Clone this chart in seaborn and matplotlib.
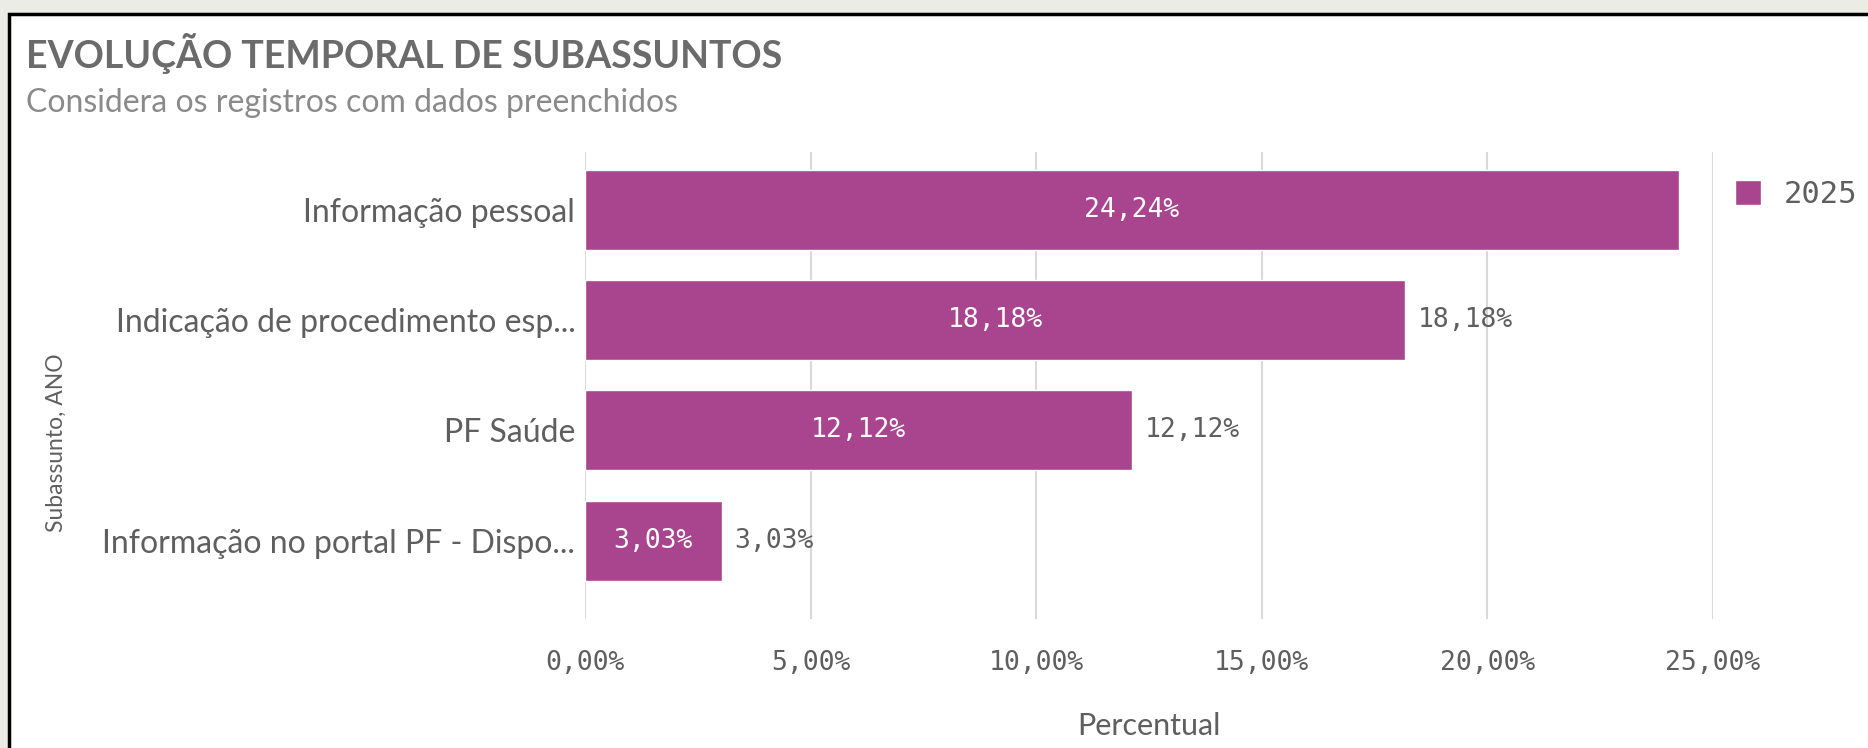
import pandas as pd
import seaborn as sns
import matplotlib.pyplot as plt
from matplotlib.patches import Rectangle
from matplotlib.ticker import FuncFormatter

categorias = ['Informação pessoal', 'Indicação de procedimento esp...',
              'PF Saúde', 'Informação no portal PF - Dispo...']
percentuais = [24.24, 18.18, 12.12, 3.03]
ano = ['2025', '2025', '2025', '2025']
xticks = [0, 5, 10, 15, 20, 25]

cor_barra = '#a9448f'
cor_texto = '#5f5f5f'

df = pd.DataFrame({'Subassunto': categorias, 'Percentual': percentuais, 'ANO': ano})


def fmt(v):
    return f'{v:.2f}%'.replace('.', ',')


sns.set_style('white')
plt.rcParams['font.family'] = ['Lato', 'DejaVu Sans']

W, H = 1868, 748
fig = plt.figure(figsize=(W / 100, H / 100), dpi=100, facecolor='#ecece6')
fig.patches.append(Rectangle((9 / W, -0.1), 1.1, (H - 14) / H + 0.1,
                             transform=fig.transFigure, facecolor='white',
                             edgecolor='black', linewidth=2.5, zorder=-1))

ax = fig.add_axes([585 / W, 129 / H, 1128 / W, 467 / H])
sns.barplot(data=df, x='Percentual', y='Subassunto', hue='ANO',
            palette=[cor_barra], width=0.725, ax=ax, saturation=1)

ax.set_xlim(0, 25)
ax.set_ylim(3.71, -0.525)
ax.set_xticks(xticks)
ax.xaxis.set_major_formatter(FuncFormatter(lambda v, p: fmt(v)))
ax.grid(axis='x', color='#d9d9d9', linewidth=1.5)
ax.grid(axis='y', visible=False)
ax.set_axisbelow(True)
for s in ax.spines.values():
    s.set_visible(False)
ax.tick_params(axis='x', length=0, pad=22, labelsize=19, labelcolor=cor_texto)
ax.tick_params(axis='y', length=0, pad=7, labelsize=23, labelcolor=cor_texto)
for t in ax.get_xticklabels():
    t.set_family('DejaVu Sans Mono')

ax.set_xlabel('Percentual', fontsize=22, color=cor_texto, labelpad=26)
ax.set_ylabel('')
fig.text(56 / W, 1 - 443 / H, 'Subassunto, ANO', rotation=90, ha='center',
         va='center', fontsize=16.5, color=cor_texto)

cont = ax.containers[0]
ax.bar_label(cont, labels=[fmt(v) for v in percentuais], label_type='center',
             color='white', fontsize=19, family='DejaVu Sans Mono')
ax.bar_label(cont, labels=[''] + [fmt(v) for v in percentuais[1:]],
             label_type='edge', padding=9, color=cor_texto, fontsize=19,
             family='DejaVu Sans Mono')

handles, labels = ax.get_legend_handles_labels()
leg = ax.legend(handles, labels, loc='upper left',
                bbox_to_anchor=(1735 / W, 1 - 180 / H), bbox_transform=fig.transFigure,
                frameon=False, borderpad=0, borderaxespad=0, handlelength=0.85,
                handleheight=0.9, handletextpad=0.75, fontsize=22)
for t in leg.get_texts():
    t.set_color(cor_texto)
    t.set_family('DejaVu Sans Mono')

fig.text(26 / W, 1 - 68 / H, 'EVOLUÇÃO TEMPORAL DE SUBASSUNTOS', fontsize=27,
         fontweight='bold', color='#6b6b6b', va='baseline')
fig.text(26 / W, 1 - 112 / H, 'Considera os registros com dados preenchidos',
         fontsize=23, color='#8a8a8a', va='baseline')

fig.savefig('out.png', dpi=100, facecolor=fig.get_facecolor())
